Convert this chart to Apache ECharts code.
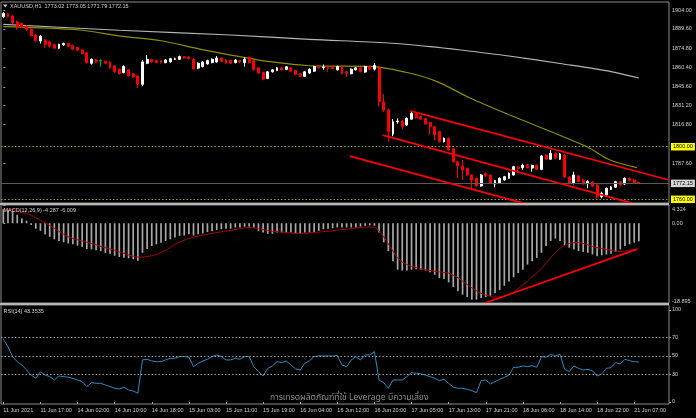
<!DOCTYPE html>
<html><head><meta charset="utf-8">
<script src="https://cdn.jsdelivr.net/npm/echarts@6/dist/echarts.min.js"></script>
<style>html,body{margin:0;padding:0;background:#000;}#c{width:696px;height:418px;}</style>
</head><body><div id="c"></div>
<script>
// ---------- DATA ----------
const chartTitle = 'XAUUSD,H1  1773.02 1773.05 1771.79 1772.15';
const macdTitle = 'MACD(12,26,9) -4.287 -6.009';
const rsiTitle = 'RSI(14) 43.3535';
const watermark = 'การเทรดผลิตภัณฑ์ที่ใช้ Leverage มีความเสี่ยง';

const timeLabels = ['11 Jun 2021','11 Jun 17:00','14 Jun 02:00','14 Jun 10:00','14 Jun 18:00','15 Jun 03:00','15 Jun 11:00','15 Jun 19:00','16 Jun 04:00','16 Jun 12:00','16 Jun 20:00','17 Jun 05:00','17 Jun 13:00','17 Jun 21:00','18 Jun 06:00','18 Jun 14:00','18 Jun 22:00','21 Jun 07:00'];
const barsPerLabel = 8;
const slotCount = 144; // bars + right-hand chart shift

const opens = [1898.8,1901.2,1899.4,1895.0,1893.8,1891.8,1889.5,1885.0,1880.5,1881.0,
 1879.9,1877.8,1874.9,1877.5,1878.5,1877.0,1875.5,1873.6,1871.5,1863.5,
 1866.0,1865.5,1865.0,1864.5,1861.5,1859.0,1856.5,1858.5,1855.5,1853.8,
 1847.5,1863.5,1866.5,1865.5,1865.5,1864.0,1864.5,1866.5,1866.5,1868.5,
 1868.2,1866.5,1859.8,1861.0,1863.0,1864.0,1864.5,1867.5,1866.0,1865.5,
 1864.0,1865.5,1864.0,1868.0,1865.5,1860.0,1856.5,1852.0,1857.0,1858.0,
 1860.0,1858.8,1860.0,1858.0,1855.5,1853.5,1856.0,1857.5,1861.0,1860.3,
 1861.0,1861.0,1858.5,1861.0,1857.0,1855.5,1858.5,1860.0,1856.8,1861.0,
 1859.0,1860.0,1834.0,1828.0,1809.7,1819.0,1819.5,1816.5,1821.0,1825.0,
 1823.0,1821.5,1818.5,1815.2,1811.5,1803.8,1806.5,1798.5,1788.6,1785.4,
 1783.6,1778.5,1776.0,1770.1,1779.8,1778.5,1771.6,1772.6,1774.7,1776.0,
 1778.5,1784.6,1784.0,1786.3,1783.8,1786.0,1782.8,1793.7,1790.5,1795.0,
 1790.5,1793.7,1777.0,1772.0,1777.8,1774.7,1772.5,1773.2,1770.9,1761.9,
 1763.3,1767.5,1769.2,1773.4,1771.6,1776.0,1774.8,1773.02];
const closes = [1901.4,1899.0,1894.3,1891.0,1891.4,1889.0,1884.5,1880.7,1884.2,1877.8,
 1876.5,1875.0,1877.9,1878.5,1876.5,1874.2,1873.5,1871.0,1864.0,1866.5,
 1864.5,1865.5,1863.5,1860.0,1857.0,1855.5,1861.0,1854.0,1853.0,1847.8,
 1864.5,1866.5,1864.5,1864.0,1864.0,1866.0,1867.0,1867.0,1868.6,1867.5,
 1867.0,1859.2,1863.5,1864.5,1865.5,1866.5,1867.5,1865.0,1863.5,1863.5,
 1866.0,1864.5,1866.5,1864.0,1858.5,1856.0,1851.3,1857.0,1858.5,1860.0,
 1858.5,1860.8,1857.5,1855.0,1853.5,1857.0,1859.0,1861.0,1860.0,1860.7,
 1859.5,1859.5,1861.0,1855.5,1856.0,1859.0,1860.0,1857.0,1861.0,1859.0,
 1861.8,1834.5,1827.9,1811.5,1819.0,1819.5,1815.5,1821.6,1825.4,1822.0,
 1821.0,1817.3,1815.2,1809.0,1803.8,1806.5,1797.5,1788.5,1785.4,1782.3,
 1778.5,1774.7,1770.1,1778.5,1777.8,1772.2,1774.2,1776.0,1777.2,1779.8,
 1784.8,1783.5,1786.0,1784.0,1785.8,1782.8,1793.0,1790.5,1795.0,1791.2,
 1794.5,1777.0,1772.0,1778.5,1773.5,1771.6,1773.5,1770.1,1761.9,1764.6,
 1768.4,1769.5,1773.4,1770.9,1776.0,1774.2,1772.8,1772.15];
const lows = [1897.8,1898.2,1893.2,1888.8,1890.6,1888.2,1883.8,1879.8,1878.5,1875.2,
 1875.5,1874.5,1874.2,1876.8,1876.0,1873.5,1872.8,1870.3,1863.2,1862.5,
 1863.8,1860.9,1862.8,1859.3,1856.3,1854.8,1855.8,1853.3,1852.3,1844.7,
 1846.0,1862.8,1863.8,1863.4,1863.4,1863.4,1864.0,1866.0,1866.0,1867.0,
 1866.5,1858.5,1859.0,1860.4,1862.5,1863.5,1864.0,1864.4,1863.0,1863.0,
 1863.4,1864.0,1861.0,1863.4,1858.0,1855.4,1850.6,1851.4,1856.4,1857.5,
 1858.0,1858.3,1857.0,1854.4,1853.0,1853.0,1855.5,1857.0,1859.5,1858.5,
 1857.0,1859.0,1858.0,1855.0,1853.0,1855.0,1858.0,1856.4,1856.3,1858.5,
 1858.0,1830.5,1826.5,1803.8,1808.0,1817.5,1813.5,1816.0,1820.5,1821.5,
 1820.5,1816.8,1809.0,1805.0,1803.2,1803.2,1797.0,1788.0,1776.0,1774.7,
 1778.0,1768.4,1769.5,1769.6,1777.2,1771.6,1769.2,1772.0,1774.2,1775.5,
 1778.0,1781.5,1782.5,1783.5,1781.0,1782.2,1782.2,1790.0,1790.0,1790.6,
 1790.0,1776.4,1771.4,1771.4,1773.0,1771.0,1768.4,1769.5,1760.5,1760.8,
 1762.8,1767.0,1768.7,1770.3,1771.0,1773.7,1772.3,1771.79];
const highs = [1902.5,1902.0,1900.2,1896.0,1894.6,1892.5,1890.0,1885.8,1884.8,1882.0,
 1880.6,1878.5,1878.5,1879.2,1879.0,1877.6,1876.0,1874.2,1872.2,1867.2,
 1866.8,1866.5,1865.6,1865.2,1862.0,1859.6,1862.0,1859.2,1856.0,1854.4,
 1866.0,1869.8,1867.0,1866.0,1866.0,1866.6,1867.6,1867.8,1869.3,1869.0,
 1868.8,1867.2,1864.2,1865.2,1866.2,1867.2,1869.0,1868.0,1866.6,1866.0,
 1866.6,1866.0,1868.0,1868.6,1866.0,1860.6,1857.0,1857.6,1859.0,1860.6,
 1860.6,1861.4,1860.6,1858.6,1856.0,1857.6,1859.6,1861.6,1861.6,1862.5,
 1861.6,1861.6,1861.6,1861.6,1857.6,1859.6,1860.6,1860.6,1861.6,1861.6,
 1863.5,1861.5,1840.0,1829.0,1821.0,1821.5,1820.2,1822.2,1826.5,1825.6,
 1823.6,1822.0,1819.0,1815.8,1812.0,1807.0,1807.0,1799.0,1789.2,1789.9,
 1784.2,1779.0,1776.6,1779.2,1780.4,1779.0,1774.8,1776.6,1777.8,1780.4,
 1785.4,1785.5,1787.2,1786.9,1786.4,1786.6,1793.6,1794.3,1797.5,1795.6,
 1795.2,1794.3,1777.6,1781.0,1778.4,1775.3,1774.5,1773.8,1771.5,1765.8,
 1769.0,1770.1,1774.0,1774.0,1776.6,1776.6,1775.3,1773.05];
const dojiBars = [21];

const maSlow = [[0,1893.1],[25,1888.6],[49,1885.0],[66,1881.7],[83,1878.9],[92,1876.2],[98.6,1873.6],[109,1869.0],[120,1863.3],[131,1857.2],[137,1852.3]];
const maFast = [[0,1891.3],[16.5,1888.8],[25.2,1884.2],[34,1880.6],[42.6,1874.1],[51,1868.5],[57.5,1864.7],[66,1861.6],[79.7,1860.9],[87.7,1855.9],[93.5,1849.5],[100.6,1837.1],[109.2,1824.1],[125.8,1800.0],[130.8,1789.9],[136.6,1784.1]];

const channelUpper = [[87.7,1827.2],[143.5,1774.7]];
const channelMiddle = [[81.8,1808.9],[135.7,1757.0]];
const channelLower = [[74.7,1792.9],[112.5,1756.7]];
const macdTrend = [[103.8,-18.9],[136.5,-6.17]];

const resistanceLevel = 1800.00, supportLevel = 1760.00, lastPrice = 1772.15;
const priceTicks = [1904.00,1889.60,1874.80,1860.40,1845.60,1831.20,1816.80,1787.60];
const priceScale = [1757.2, 1910.1];

const macdHist = [3.35,3.1,2.9,2.0,1.1,0.6,-0.4,-1.3,-1.8,-2.6,
 -3.2,-3.8,-4.2,-4.5,-4.8,-5.0,-5.3,-5.6,-6.1,-6.2,
 -6.4,-6.6,-7.0,-7.2,-7.7,-8.0,-8.2,-8.3,-8.5,-8.9,
 -7.0,-6.1,-5.4,-5.0,-4.6,-4.2,-3.8,-3.4,-3.0,-2.9,
 -2.6,-2.9,-2.6,-2.4,-2.1,-1.9,-1.6,-1.4,-1.3,-1.3,
 -1.0,-1.0,-0.8,-0.8,-1.0,-1.8,-2.2,-2.5,-2.5,-2.2,
 -2.2,-2.2,-2.2,-2.4,-2.4,-2.2,-2.2,-2.1,-1.8,-1.4,
 -1.3,-1.2,-1.0,-1.0,-1.0,-1.0,-1.0,-0.8,-0.6,-0.5,
 -0.6,-2.2,-4.5,-6.6,-9.0,-11.0,-11.2,-11.2,-11.0,-10.9,
 -11.0,-11.2,-11.6,-12.2,-13.0,-13.2,-14.0,-15.1,-16.1,-16.9,
 -17.5,-18.1,-18.1,-17.7,-17.5,-17.2,-16.6,-15.8,-14.8,-13.8,
 -12.8,-11.8,-11.0,-9.8,-9.0,-8.2,-7.0,-5.4,-4.2,-3.6,
 -4.2,-5.2,-5.8,-6.2,-6.6,-6.8,-7.0,-7.4,-7.8,-7.6,
 -7.4,-7.2,-6.8,-6.2,-5.4,-5.0,-4.6,-4.287];
const macdSignal = [3.4,3.3,3.2,3.0,2.7,2.3,1.9,1.3,0.7,0.1,
 -0.5,-1.2,-1.9,-2.6,-3.2,-3.6,-3.9,-4.2,-4.5,-4.8,
 -5.1,-5.5,-5.8,-6.1,-6.4,-6.8,-7.1,-7.5,-7.8,-8.0,
 -8.0,-7.9,-7.7,-7.4,-6.9,-6.4,-5.7,-5.0,-4.5,-4.0,
 -3.6,-3.3,-3.0,-2.8,-2.6,-2.4,-2.2,-2.0,-1.8,-1.7,
 -1.5,-1.3,-1.1,-1.0,-1.1,-1.3,-1.5,-1.7,-1.9,-2.0,
 -2.1,-2.2,-2.3,-2.4,-2.4,-2.4,-2.3,-2.2,-2.1,-2.0,
 -1.9,-1.8,-1.6,-1.5,-1.4,-1.3,-1.1,-1.0,-0.9,-0.9,
 -1.0,-1.8,-3.2,-4.9,-6.6,-8.2,-9.2,-9.8,-10.2,-10.5,
 -10.8,-11.0,-11.2,-11.4,-11.5,-11.7,-11.8,-12.3,-12.9,-13.7,
 -14.5,-15.3,-16.0,-16.6,-17.0,-17.3,-17.5,-17.5,-17.3,-16.9,
 -16.3,-15.5,-14.6,-13.7,-12.7,-11.8,-10.7,-9.4,-8.1,-7.0,
 -6.0,-5.2,-4.8,-4.6,-4.6,-4.8,-5.1,-5.5,-5.8,-6.0,
 -6.2,-6.4,-6.6,-6.7,-6.6,-6.4,-6.2,-6.009];
const macdTicks = [4.324, 0, -18.895];
const macdScale = [-18.895, 4.324];

const rsi = [68.2,60.1,49.3,43.8,40.2,34.8,29.3,25.7,33.0,29.3,
 27.5,23.9,28.3,27.5,27.0,25.7,23.9,22.1,16.7,21.0,
 20.3,20.3,18.5,16.7,14.9,14.1,16.0,13.0,12.0,9.4,
 45.7,46.4,44.6,43.8,43.8,45.7,47.5,47.5,49.3,49.3,
 48.6,38.4,42.0,44.6,46.4,49.3,51.1,49.3,45.7,45.7,
 47.5,46.4,49.3,49.3,38.4,33.0,28.3,36.6,39.1,43.8,
 42.8,44.6,40.2,35.9,34.8,42.0,44.9,49.3,50.0,50.0,
 50.0,50.0,50.5,40.2,38.4,45.7,49.3,45.7,51.1,51.1,
 54.7,23.9,21.0,14.9,23.9,23.9,23.9,27.5,31.9,31.2,
 30.5,29.3,27.5,25.7,23.2,24.6,20.3,16.0,14.9,14.9,
 13.8,12.3,10.1,23.2,23.9,19.6,22.1,24.6,26.8,29.3,
 37.7,37.7,39.1,38.4,39.5,37.7,49.3,48.6,51.8,50.0,
 51.8,35.5,33.0,39.1,36.6,34.8,35.5,34.1,28.3,30.4,
 36.6,37.3,42.8,41.3,46.4,44.9,43.8,43.35];
const rsiTicks = [100, 70, 50, 30, 0];
const rsiLevels = [70, 50, 30];
const rsiScale = [-2.2, 105.4];

// ---------- CHART ----------
const FONT = '"Liberation Sans", Arial, sans-serif';
const TXT = '#d0d0d0';
const FS = 5.5;
const cats = Array.from({length: slotCount}, (_, i) => String(i));
const showTime = i => i % barsPerLabel === 0 && i / barsPerLabel < timeLabels.length;

const candleData = opens.map((o, i) => {
  const v = [o, closes[i], lows[i], highs[i]];
  if (dojiBars.includes(i)) {
    return {value: v, itemStyle: {color: '#00c000', color0: '#00c000', borderColor: '#00c000', borderColor0: '#00c000'}};
  }
  return v;
});

const lvlLabel = (txt, bg) => ({show: true, position: 'end', formatter: txt, backgroundColor: bg, color: '#000',
  fontSize: FS, fontFamily: FONT, padding: [1, 2, 0.5, 2], distance: 2});

const hiddenCat = g => ({type: 'category', gridIndex: g, data: cats, boundaryGap: true,
  axisLine: {show: false}, axisTick: {show: false}, axisLabel: {show: false}, splitLine: {show: false}});
const hiddenVal = g => ({type: 'value', gridIndex: g, min: -0.5, max: slotCount - 0.5, show: false, splitLine: {show: false}});

// MetaTrader keeps the panel's min/max labels inside the panel: nudge them by a few pixels
const MACD_H = 98;
const macdPx = MACD_H / (macdScale[1] - macdScale[0]);
const macdLabelAt = macdTicks.map(v => v === macdScale[1] ? v - 4 / macdPx : v === macdScale[0] ? v + 1.5 / macdPx : v);
const nearestTick = (ticks, v) => ticks.reduce((a, b) => Math.abs(b - v) < Math.abs(a - v) ? b : a);

const yCommon = (g, scale, tickVals, labelVals, fmt) => ({
  type: 'value', gridIndex: g, position: 'right', min: scale[0], max: scale[1], scale: true,
  splitLine: {show: false}, axisLine: {show: false},
  axisTick: {show: true, customValues: tickVals, length: 2, lineStyle: {color: '#a0a0a0'}},
  axisLabel: {show: true, customValues: labelVals, formatter: fmt, color: TXT, fontSize: FS, fontFamily: FONT, margin: 3,
    showMinLabel: true, showMaxLabel: true, hideOverlap: false}
});

const trend = (data, xi, yi) => ({type: 'line', xAxisIndex: xi, yAxisIndex: yi, data, symbol: 'none', silent: true,
  lineStyle: {color: '#ff0000', width: 1.8}, z: 5, clip: true});

const gridBase = {left: 1, right: 27, show: true, borderColor: '#8c8c8c', borderWidth: 1, backgroundColor: 'transparent'};

const option = {
  backgroundColor: '#000000',
  animation: false,
  grid: [
    Object.assign({}, gridBase, {top: 2, height: 201}),
    Object.assign({}, gridBase, {top: 205, height: MACD_H}),
    Object.assign({}, gridBase, {top: 305, height: 99})
  ],
  xAxis: [
    hiddenCat(0), hiddenCat(1),
    {type: 'category', gridIndex: 2, data: cats, boundaryGap: true, axisLine: {show: false}, splitLine: {show: false},
     axisTick: {show: true, interval: showTime, alignWithLabel: true, length: 2, lineStyle: {color: '#a0a0a0'}},
     axisLabel: {show: true, interval: showTime, align: 'left', color: TXT, fontSize: FS, fontFamily: FONT, margin: 3,
       formatter: v => { const i = Number(v); return showTime(i) ? timeLabels[i / barsPerLabel] : ''; }}},
    hiddenVal(0), hiddenVal(1)
  ],
  yAxis: [
    yCommon(0, priceScale, priceTicks, priceTicks, v => v.toFixed(2)),
    yCommon(1, macdScale, macdTicks, macdLabelAt, v => { const t = nearestTick(macdTicks, v); return t === 0 ? '0.00' : String(t); }),
    yCommon(2, rsiScale, rsiTicks, rsiTicks, v => String(v))
  ],
  series: [
    {type: 'line', name: 'MA slow', xAxisIndex: 3, yAxisIndex: 0, data: maSlow, symbol: 'none', smooth: 0.3,
     lineStyle: {color: '#b4b4b4', width: 1.2}, silent: true, z: 2},
    {type: 'line', name: 'MA fast', xAxisIndex: 3, yAxisIndex: 0, data: maFast, symbol: 'none', smooth: 0.3,
     lineStyle: {color: '#8e8e00', width: 1.2}, silent: true, z: 2},
    {type: 'candlestick', xAxisIndex: 0, yAxisIndex: 0, data: candleData, barWidth: 2.4, z: 3,
     itemStyle: {color: '#ffffff', color0: '#ff0000', borderColor: '#ffffff', borderColor0: '#ff0000', borderWidth: 1},
     markLine: {symbol: ['none', 'none'], silent: true, animation: false,
       data: [
         {yAxis: resistanceLevel, lineStyle: {color: '#a6a600', type: [1.5, 2], width: 1}, label: lvlLabel(resistanceLevel.toFixed(2), '#ffff00')},
         {yAxis: supportLevel, lineStyle: {color: '#a6a600', type: [1.5, 2], width: 1}, label: lvlLabel(supportLevel.toFixed(2), '#ffff00')},
         {yAxis: lastPrice, lineStyle: {color: '#5a5a5a', type: 'solid', width: 1}, label: lvlLabel(lastPrice.toFixed(2), '#d4d4d4')}
       ]}},
    trend(channelUpper, 3, 0), trend(channelMiddle, 3, 0), trend(channelLower, 3, 0),
    {type: 'bar', xAxisIndex: 1, yAxisIndex: 1, data: macdHist, barWidth: 1.7, itemStyle: {color: '#a8a8a8'}, silent: true},
    {type: 'line', xAxisIndex: 1, yAxisIndex: 1, data: macdSignal, symbol: 'none', smooth: 0.3,
     lineStyle: {color: '#b00000', width: 1}, silent: true, z: 4},
    trend(macdTrend, 4, 1),
    {type: 'line', xAxisIndex: 2, yAxisIndex: 2, data: rsi, symbol: 'none', lineStyle: {color: '#2a8cc2', width: 1}, silent: true,
     markLine: {symbol: ['none', 'none'], silent: true, label: {show: false},
       lineStyle: {color: '#a0a0a0', type: [1.5, 2], width: 1},
       data: rsiLevels.map(v => ({yAxis: v}))}}
  ],
  graphic: [
    {type: 'rect', shape: {x: 0, y: 203, width: 669, height: 2}, style: {fill: '#b8b8b8'}, silent: true, z: 100},
    {type: 'rect', shape: {x: 0, y: 303, width: 669, height: 2}, style: {fill: '#b8b8b8'}, silent: true, z: 100},
    {type: 'polygon', shape: {points: [[3, 4.5], [7.5, 4.5], [5.25, 7.5]]}, style: {fill: '#c8c8c8'}, silent: true, z: 100},
    {type: 'text', x: 10, y: 6, silent: true, z: 100,
     style: {text: chartTitle, fill: TXT, fontSize: FS, fontFamily: FONT, verticalAlign: 'middle'}},
    {type: 'text', x: 3.5, y: 210, silent: true, z: 100,
     style: {text: macdTitle, fill: TXT, fontSize: FS, fontFamily: FONT, verticalAlign: 'middle'}},
    {type: 'text', x: 3.5, y: 311.5, silent: true, z: 100,
     style: {text: rsiTitle, fill: TXT, fontSize: FS, fontFamily: FONT, verticalAlign: 'middle'}},
    {type: 'text', x: 270, y: 398, silent: true, z: 100,
     style: {text: watermark, fill: '#8c8c8c', fontSize: 8.6, fontFamily: '"Noto Sans Thai", "Noto Sans", "DejaVu Sans", sans-serif', verticalAlign: 'middle'}}
  ]
};

const chart = echarts.init(document.getElementById('c'), null, {renderer: 'canvas'});
chart.setOption(option);
</script></body></html>
